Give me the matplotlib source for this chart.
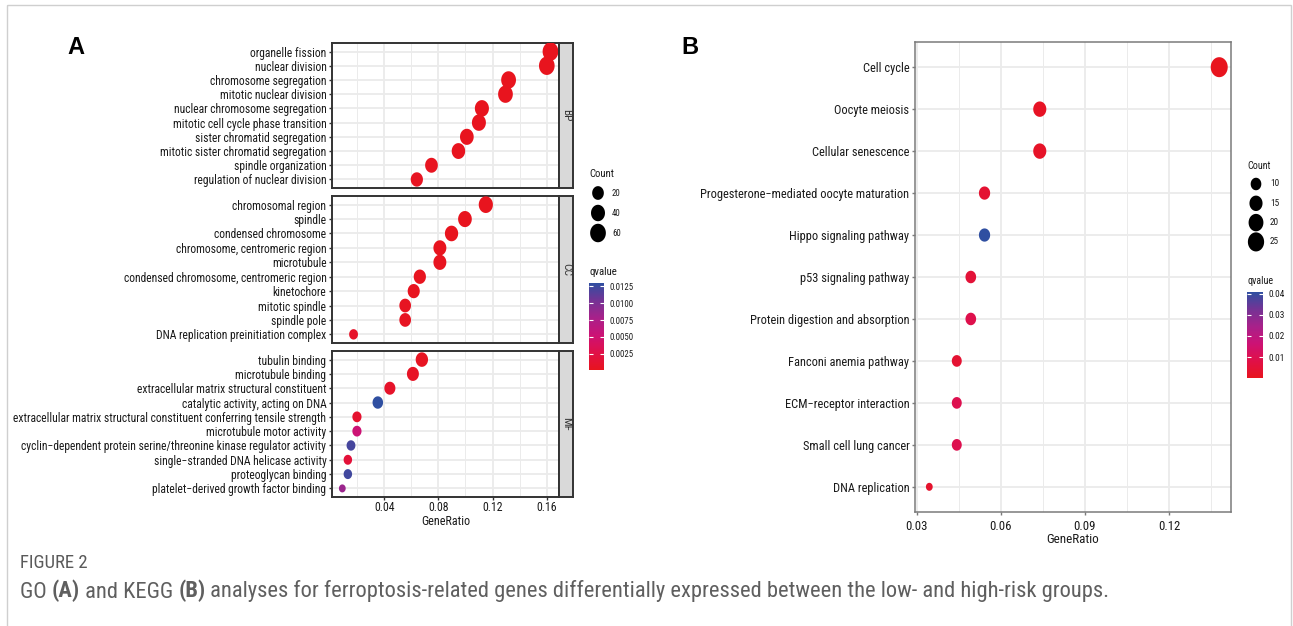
import numpy as np
import matplotlib.pyplot as plt
from matplotlib import font_manager
from matplotlib.font_manager import FontProperties
from matplotlib.colors import LinearSegmentedColormap, Normalize
from matplotlib.cm import ScalarMappable
from matplotlib.path import Path
from matplotlib.patches import Rectangle

# ---- panel A: GO enrichment, one facet per ontology (top row first) ----
bp_terms = ['organelle fission', 'nuclear division', 'chromosome segregation',
            'mitotic nuclear division', 'nuclear chromosome segregation',
            'mitotic cell cycle phase transition', 'sister chromatid segregation',
            'mitotic sister chromatid segregation', 'spindle organization',
            'regulation of nuclear division']
bp_ratio = [0.1627, 0.1600, 0.1318, 0.1295, 0.1121, 0.1099, 0.1010, 0.0948, 0.0749, 0.0641]
bp_count = [60, 59, 49, 48, 41, 40, 37, 35, 28, 24]
bp_q = [0.0001, 0.0001, 0.0001, 0.0001, 0.0001, 0.0002, 0.0001, 0.0002, 0.0003, 0.0004]

cc_terms = ['chromosomal region', 'spindle', 'condensed chromosome',
            'chromosome, centromeric region', 'microtubule',
            'condensed chromosome, centromeric region', 'kinetochore',
            'mitotic spindle', 'spindle pole', 'DNA replication preinitiation complex']
cc_ratio = [0.1150, 0.0996, 0.0897, 0.0811, 0.0811, 0.0663, 0.0618, 0.0555, 0.0555, 0.0174]
cc_count = [42, 37, 33, 30, 30, 24, 23, 20, 20, 6]
cc_q = [0.0001, 0.0001, 0.0001, 0.0002, 0.0003, 0.0002, 0.0003, 0.0004, 0.0004, 0.0008]

mf_terms = ['tubulin binding', 'microtubule binding',
            'extracellular matrix structural constituent',
            'catalytic activity, acting on DNA',
            'extracellular matrix structural constituent conferring tensile strength',
            'microtubule motor activity',
            'cyclin\u2212dependent protein serine/threonine kinase regulator activity',
            'single\u2212stranded DNA helicase activity', 'proteoglycan binding',
            'platelet\u2212derived growth factor binding']
mf_ratio = [0.0678, 0.0612, 0.0442, 0.0353, 0.0199, 0.0199, 0.0155, 0.0132, 0.0132, 0.0091]
mf_count = [25, 22, 16, 13, 7, 7, 6, 5, 5, 3]
mf_q = [0.0004, 0.0006, 0.0009, 0.0130, 0.0012, 0.0052, 0.0121, 0.0018, 0.0123, 0.0085]

go_sections = ['BP', 'CC', 'MF']

# ---- panel B: KEGG enrichment ----
kegg_terms = ['Cell cycle', 'Oocyte meiosis', 'Cellular senescence',
              'Progesterone\u2212mediated oocyte maturation', 'Hippo signaling pathway',
              'p53 signaling pathway', 'Protein digestion and absorption',
              'Fanconi anemia pathway', 'ECM\u2212receptor interaction',
              'Small cell lung cancer', 'DNA replication']
kegg_ratio = [0.1379, 0.0739, 0.0739, 0.0542, 0.0542, 0.0493, 0.0493, 0.0443, 0.0443, 0.0443, 0.0345]
kegg_count = [28, 15, 15, 11, 11, 10, 10, 9, 9, 9, 7]
kegg_q = [0.00005, 0.0015, 0.0020, 0.0040, 0.0408, 0.0050, 0.0090, 0.0040, 0.0095, 0.0095, 0.0030]

go_size_breaks = [20, 40, 60]
go_q_ticks = [0.0025, 0.0050, 0.0075, 0.0100, 0.0125]
kegg_size_breaks = [10, 15, 20, 25]
kegg_q_ticks = [0.01, 0.02, 0.03, 0.04]

caption_title = 'FIGURE 2'
caption_parts = [('GO ', 'normal'), ('(A)', 'bold'), (' and KEGG ', 'normal'), ('(B)', 'bold'),
                 (' analyses for ferroptosis-related genes differentially expressed between '
                  'the low- and high-risk groups.', 'normal')]

# the source figure is squeezed sideways, so prefer a narrow face when one exists
faces = font_manager.fontManager.ttflist
installed = {f.name for f in faces}
narrow = [n for n in ['Liberation Sans Narrow', 'Arial Narrow', 'Roboto Condensed',
                      'Noto Sans Condensed', 'Open Sans Condensed'] if n in installed]
base = [narrow[0] if narrow else 'Liberation Sans', 'DejaVu Sans']
plt.rcParams['font.family'] = base


def light_face(names):
    # first family among names that has a regular (or lighter) face
    for n in names:
        ws = [f.weight for f in faces if f.name == n and isinstance(f.weight, int) and f.weight <= 400]
        if ws:
            return n, max(ws)
    return 'Open Sans', 400


cap_name, cap_weight = light_face(['Open Sans Condensed', 'Noto Sans Condensed', 'Roboto Condensed'])
cap_family = [cap_name, 'DejaVu Sans']

W, H = 1293, 626
fig = plt.figure(figsize=(W / 100, H / 100), dpi=100)
renderer = fig.canvas.get_renderer()


def fit(text, target_px, family=base, weight='normal'):
    # font size whose rendered width matches the width measured on the reference
    fp = FontProperties(family=family, size=10, weight=weight)
    w = renderer.get_text_width_height_descent(text, fp, ismath=False)[0]
    return 10 * target_px / w


a_ylab = fit('regulation of nuclear division', 132)
b_ylab = fit('Progesterone\u2212mediated oocyte maturation', 209)
a_xtick = fit('0.04', 20.3)
b_xtick = fit('0.03', 22.1)
a_xlab = fit('GeneRatio', 49)
b_xlab = fit('GeneRatio', 52.5)
a_leg_t = fit('Count', 25)
a_leg_l = fit('0.0125', 23.7)
b_leg_t = fit('qvalue', 26)
b_leg_l = fit('0.04', 16)
strip_size = fit('BP', 12.6)
cap_t_size = fit(caption_title, 68, cap_family, cap_weight)
cap_size = fit(''.join(p for p, _ in caption_parts), 1080, cap_family, cap_weight)


def px_box(l, t, r, b):
    return [l / W, 1 - b / H, (r - l) / W, (b - t) / H]


cmap = LinearSegmentedColormap.from_list(
    'qv', ['#E8141E', '#E01048', '#CC1275', '#A8218A', '#743395', '#2F4FA1'])

theta = np.linspace(0, 2 * np.pi, 73)
dot = Path(np.column_stack([0.85 * np.cos(theta), np.sin(theta)]))

txt = '#1a1a1a'
grid_col = '#EBEBEB'


def dot_area(count, cmin, cmax, hmin, hmax):
    c = np.asarray(count, dtype=float)
    h = hmin + (hmax - hmin) * np.sqrt((c - cmin) / (cmax - cmin))
    return (h * 0.72) ** 2


def dot_panel(ax, terms, ratio, count, q, norm, size_args, xlim, major, minor,
              ysize, spine_col, spine_w):
    n = len(terms)
    y = np.arange(n)[::-1]
    ax.scatter(ratio, y, s=dot_area(count, *size_args), c=q, cmap=cmap, norm=norm,
               marker=dot, linewidths=0, zorder=3)
    ax.set_xlim(xlim)
    ax.set_ylim(-0.6, n - 0.4)
    ax.set_xticks(major)
    ax.set_xticks(minor, minor=True)
    ax.set_yticks(y)
    ax.set_yticklabels(terms, fontsize=ysize, color=txt)
    ax.set_axisbelow(True)
    ax.grid(which='major', color=grid_col, lw=1.3)
    ax.grid(which='minor', axis='x', color=grid_col, lw=0.7)
    ax.tick_params(axis='both', which='major', length=2.5, width=1.0, color='#333333', pad=1.5)
    ax.tick_params(axis='x', which='minor', length=0)
    for s in ax.spines.values():
        s.set_color(spine_col)
        s.set_linewidth(spine_w)


# ---- panel A ----
go_norm = Normalize(min(bp_q + cc_q + mf_q), max(bp_q + cc_q + mf_q))
all_counts = bp_count + cc_count + mf_count
go_size = (min(all_counts), max(all_counts), 8.0, 18.5)
facet_px = [(43, 188), (196, 343), (351, 497)]
facets = [(bp_terms, bp_ratio, bp_count, bp_q),
          (cc_terms, cc_ratio, cc_count, cc_q),
          (mf_terms, mf_ratio, mf_count, mf_q)]
for i, (label, (top, bot), data) in enumerate(zip(go_sections, facet_px, facets)):
    ax = fig.add_axes(px_box(332, top, 559, bot))
    dot_panel(ax, *data, go_norm, go_size, (0.0015, 0.1690),
              [0.04, 0.08, 0.12, 0.16], [0.02, 0.06, 0.10, 0.14], a_ylab, '#333333', 1.4)
    if i < 2:
        ax.tick_params(axis='x', bottom=False, labelbottom=False)
    else:
        ax.tick_params(axis='x', labelsize=a_xtick, labelcolor=txt, pad=0.3)
        ax.set_xlabel('GeneRatio', fontsize=a_xlab, color=txt, labelpad=0.5)
    strip = fig.add_axes(px_box(559, top, 573, bot))
    strip.set_facecolor('#D9D9D9')
    strip.set_xticks([])
    strip.set_yticks([])
    for s in strip.spines.values():
        s.set_color('#333333')
        s.set_linewidth(1.4)
    strip.text(0.5, 0.5, label, rotation=-90, ha='center', va='center',
               fontsize=strip_size, color='#333333', transform=strip.transAxes)

# ---- panel B ----
kegg_norm = Normalize(min(kegg_q), max(kegg_q))
kegg_size = (min(kegg_count), max(kegg_count), 8.0, 20.0)
axb = fig.add_axes(px_box(915, 42, 1231, 512))
dot_panel(axb, kegg_terms, kegg_ratio, kegg_count, kegg_q, kegg_norm, kegg_size,
          (0.0294, 0.1421), [0.03, 0.06, 0.09, 0.12], [0.045, 0.075, 0.105, 0.135],
          b_ylab, '#7a7a7a', 1.1)
axb.tick_params(axis='both', color='#7a7a7a')
axb.tick_params(axis='x', labelsize=b_xtick, labelcolor=txt, pad=3)
axb.set_xlabel('GeneRatio', fontsize=b_xlab, color=txt, labelpad=0)

# ---- overlay in pixel units: legends, panel letters, caption, frame ----
ov = fig.add_axes([0, 0, 1, 1])
ov.set_xlim(0, W)
ov.set_ylim(H, 0)
ov.axis('off')


def size_legend(x, title_y, first_y, step, breaks, size_args, tsize, lsize):
    ov.text(x - 9, title_y, 'Count', fontsize=tsize, color=txt, va='center', ha='left')
    ys = first_y + step * np.arange(len(breaks))
    ov.scatter([x] * len(breaks), ys, s=dot_area(breaks, *size_args), c='black',
               marker=dot, linewidths=0)
    for yy, b in zip(ys, breaks):
        ov.text(x + 14, yy, str(b), fontsize=lsize, color=txt, va='center', ha='left')


def q_legend(box, ticks, norm, fmt, tsize, lsize):
    l, t, r, b = box
    ov.text(l, t - 11, 'qvalue', fontsize=tsize, color=txt, va='center', ha='left')
    cax = fig.add_axes(px_box(l, t, r, b))
    cb = fig.colorbar(ScalarMappable(norm=norm, cmap=cmap), cax=cax)
    cb.outline.set_visible(False)
    cb.set_ticks(ticks)
    cb.set_ticklabels([fmt.format(v) for v in ticks])
    cax.yaxis.set_ticks_position('both')
    cax.tick_params(direction='in', color='white', length=3, width=0.8,
                    labelleft=False, labelright=True, labelsize=lsize,
                    labelcolor=txt, pad=4)


size_legend(598, 174, 193, 20, go_size_breaks, go_size, a_leg_t, a_leg_l)
q_legend((589, 283, 604, 370), go_q_ticks, go_norm, '{:.4f}', a_leg_t, a_leg_l)
size_legend(1256, 166, 184, 19.3, kegg_size_breaks, kegg_size, b_leg_t, b_leg_l)
q_legend((1247, 292, 1263, 378), kegg_q_ticks, kegg_norm, '{:.2f}', b_leg_t, b_leg_l)

ov.text(76, 47, 'A', fontsize=17, fontweight='bold', family='Liberation Sans',
        ha='center', va='center', color='black')
ov.text(690, 47, 'B', fontsize=17, fontweight='bold', family='Liberation Sans',
        ha='center', va='center', color='black')

ov.add_patch(Rectangle((7, 5), 1284, 700, fill=False, edgecolor='#CFCFCF', lw=1,
                       clip_on=False))

ov.text(20, 563, caption_title, va='center', ha='left', family=cap_family,
        fontweight=cap_weight, fontsize=cap_t_size, color='#5a5a5a')
cap_font = dict(family=cap_family, fontsize=cap_size, color='#5f5f5f')
prev = ov.text(20, 592, caption_parts[0][0], va='center', ha='left',
               fontweight=cap_weight, **cap_font)
for s, w in caption_parts[1:]:
    prev = ov.annotate(s, xy=(1, 0), xycoords=prev, va='bottom', ha='left',
                       fontweight=cap_weight if w == 'normal' else 'bold', **cap_font)

fig.savefig('out.png', dpi=100)
